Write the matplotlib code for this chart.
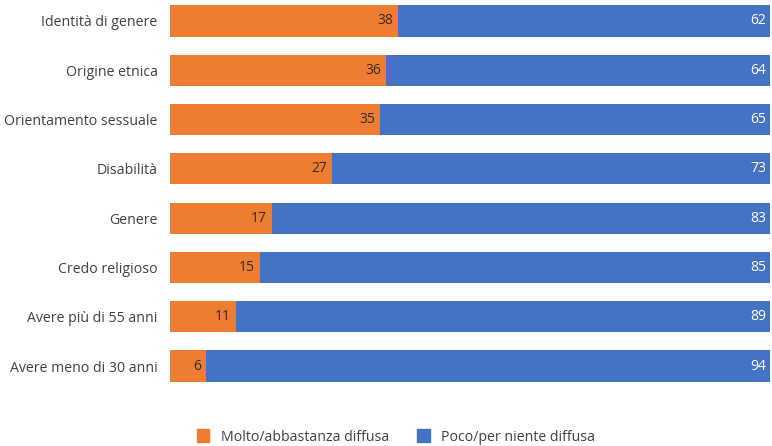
import matplotlib
matplotlib.use("Agg")
import matplotlib.pyplot as plt
from matplotlib.patches import Patch

categories = ["Identità di genere", "Origine etnica", "Orientamento sessuale", "Disabilità",
              "Genere", "Credo religioso", "Avere più di 55 anni", "Avere meno di 30 anni"]
molto = [38, 36, 35, 27, 17, 15, 11, 6]
poco = [62, 64, 65, 73, 83, 85, 89, 94]
series_names = ["Molto/abbastanza diffusa", "Poco/per niente diffusa"]

orange = "#ED7D31"
blue = "#4472C4"

plt.rcParams["font.family"] = ["Open Sans", "DejaVu Sans"]

fig = plt.figure(figsize=(7.72, 4.46), dpi=100)
ax = fig.add_axes([170 / 772, 1 - 395 / 446, 600 / 772, 395 / 446])

y = list(range(len(categories)))
ax.barh(y, molto, height=0.63, color=orange)
ax.barh(y, poco, left=molto, height=0.63, color=blue)

for i in y:
    ax.text(molto[i] - 0.8, i, str(molto[i]), ha="right", va="center",
            fontsize=10, color="#3a2a20")
    ax.text(99.3, i, str(poco[i]), ha="right", va="center",
            fontsize=10, color="white")

ax.set_xlim(0, 100)
ax.set_ylim(7.588, -0.426)
ax.set_yticks(y)
ax.set_yticklabels(categories, fontsize=10.2, color="#404040")
ax.tick_params(axis="y", length=0, pad=9)
ax.set_xticks([])
for s in ax.spines.values():
    s.set_visible(False)

handles = [Patch(color=orange), Patch(color=blue)]
fig.legend(handles, series_names, loc="center", bbox_to_anchor=(0.513, 1 - 437 / 446),
           ncol=2, frameon=False, fontsize=10.2, handlelength=0.9, handleheight=1.0,
           handletextpad=0.8, columnspacing=2.0, labelcolor="#404040")

fig.savefig("out.png", dpi=100)
